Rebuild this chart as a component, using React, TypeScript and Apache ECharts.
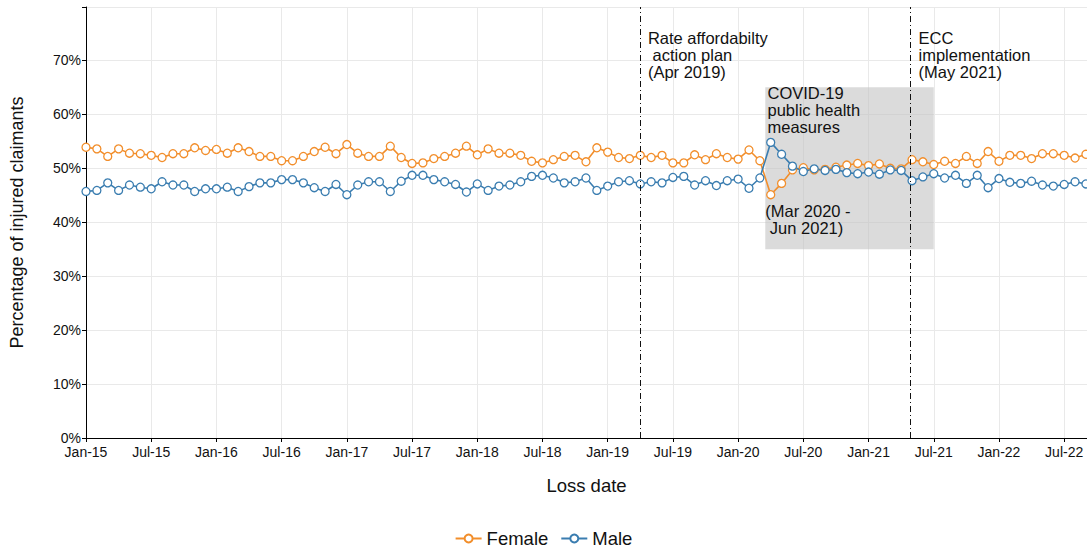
import React, { useEffect, useRef } from "react";
import * as echarts from "echarts";

// Month index 0 = Jan 2015
const tickLabels = [
  "Jan-15", "Jul-15", "Jan-16", "Jul-16", "Jan-17", "Jul-17", "Jan-18", "Jul-18",
  "Jan-19", "Jul-19", "Jan-20", "Jul-20", "Jan-21", "Jul-21", "Jan-22", "Jul-22",
];
const yTickLabels = ["0%", "10%", "20%", "30%", "40%", "50%", "60%", "70%"];

const femaleValues = [
  53.9, 53.6, 52.2, 53.6, 52.8, 52.7, 52.4, 52.0, 52.7, 52.7, 53.8, 53.3,
  53.5, 52.8, 53.8, 53.1, 52.2, 52.2, 51.4, 51.4, 52.2, 53.1, 53.9, 52.7,
  54.4, 52.8, 52.2, 52.2, 54.1, 52.0, 50.9, 51.0, 51.8, 52.2, 52.8, 54.1,
  52.5, 53.6, 52.8, 52.8, 52.4, 51.3, 51.0, 51.6, 52.2, 52.4, 51.2, 53.8,
  53.0, 52.0, 51.8, 52.4, 52.0, 52.4, 51.0, 51.0, 52.5, 51.6, 52.7, 52.0,
  51.7, 53.4, 51.4, 45.1, 47.2, 49.7, 50.1, 49.7, 49.8, 50.2, 50.6, 50.9,
  50.5, 50.8, 50.0, 49.9, 51.6, 51.2, 50.7, 51.3, 50.9, 52.2, 50.9, 53.1,
  51.3, 52.4, 52.4, 51.8, 52.7, 52.7, 52.4, 51.9, 52.6,
];
const maleValues = [
  45.7, 45.9, 47.3, 45.9, 46.9, 46.5, 46.2, 47.5, 46.9, 46.9, 45.7, 46.2,
  46.2, 46.5, 45.7, 46.6, 47.3, 47.3, 47.9, 47.9, 47.3, 46.4, 45.7, 47.0,
  45.1, 46.9, 47.5, 47.5, 45.7, 47.6, 48.7, 48.7, 47.9, 47.5, 47.0, 45.6,
  47.1, 45.9, 46.7, 46.9, 47.5, 48.5, 48.7, 48.2, 47.3, 47.5, 48.2, 45.9,
  46.7, 47.5, 47.7, 47.1, 47.5, 47.3, 48.3, 48.5, 46.9, 47.7, 46.8, 47.7,
  48.0, 46.3, 48.2, 54.8, 52.6, 50.4, 49.4, 49.9, 49.6, 49.8, 49.2, 49.0,
  49.3, 48.9, 49.7, 49.6, 47.7, 48.4, 49.0, 48.2, 48.7, 47.2, 48.7, 46.4,
  48.1, 47.4, 47.2, 47.6, 46.9, 46.7, 47.0, 47.5, 47.1,
];

// Events (month index from Jan 2015)
const rateActionPlan = 51; // Apr 2019
const eccImplementation = 75.8; // May 2021
const covidStart = 62.5; // Mar 2020
const covidEnd = 78; // Jun 2021
const covidLow = 35;
const covidHigh = 65;

const rateText = "Rate affordabilty\n action plan\n(Apr 2019)";
const eccText = "ECC\nimplementation\n(May 2021)";
const covidText = "COVID-19\npublic health\nmeasures";
const covidDates = "(Mar 2020 -\n Jun 2021)";

const FEMALE = "#F28E2B";
const MALE = "#3A7DB0";
const FONT = "Liberation Sans, Arial, Helvetica, sans-serif";

export default function App() {
  const ref = useRef<HTMLDivElement>(null);
  useEffect(() => {
    document.body.style.margin = "0";
    const chart = echarts.init(ref.current!, null, { renderer: "svg" });
    const toPairs = (arr: number[]) => arr.map((v, i) => [i, v]);
    chart.setOption({
      animation: false,
      textStyle: { fontFamily: FONT },
      grid: { left: 86, right: 0, top: 7, bottom: 115 },
      xAxis: {
        type: "value",
        min: 0,
        max: 92.1,
        interval: 6,
        name: "Loss date",
        nameLocation: "middle",
        nameGap: 38,
        nameTextStyle: { fontSize: 18.5, color: "#111", fontFamily: FONT },
        axisLine: { show: true, onZero: false, lineStyle: { color: "#000", width: 1 } },
        axisTick: { show: true, length: 4, lineStyle: { color: "#000" } },
        axisLabel: {
          fontSize: 14,
          color: "#111",
          margin: 7,
          fontFamily: FONT,
          showMaxLabel: false,
          formatter: (v: number) => tickLabels[Math.round(v / 6)] ?? "",
        },
        splitLine: { show: true, lineStyle: { color: "#e9e9e9", width: 1 } },
      },
      yAxis: {
        type: "value",
        min: 0,
        max: 79.9,
        interval: 10,
        name: "Percentage of injured claimants",
        nameLocation: "middle",
        nameGap: 60,
        nameTextStyle: { fontSize: 18, color: "#111", fontFamily: FONT },
        axisLine: { show: true, lineStyle: { color: "#000", width: 1 } },
        axisTick: { show: true, length: 4, lineStyle: { color: "#000" } },
        axisLabel: {
          fontSize: 14,
          color: "#111",
          margin: 5,
          fontFamily: FONT,
          formatter: (v: number) => yTickLabels[Math.round(v / 10)] ?? "",
        },
        splitLine: { show: true, lineStyle: { color: "#e9e9e9", width: 1 } },
      },
      legend: {
        bottom: 0,
        left: "center",
        itemWidth: 26,
        itemHeight: 10,
        itemGap: 12,
        textStyle: { fontSize: 18.5, color: "#111", fontFamily: FONT },
        data: ["Female", "Male"],
      },
      series: [
        {
          name: "Female",
          type: "line",
          data: toPairs(femaleValues),
          symbol: "circle",
          symbolSize: 8,
          clip: false,
          lineStyle: { color: FEMALE, width: 1.6 },
          itemStyle: { color: "#fff", borderColor: FEMALE, borderWidth: 1.3 },
          z: 3,
          markArea: {
            silent: true,
            itemStyle: { color: "rgba(195,195,195,0.6)" },
            data: [[{ coord: [covidStart, covidHigh] }, { coord: [covidEnd, covidLow] }]],
          },
        },
        {
          name: "Male",
          type: "line",
          data: toPairs(maleValues),
          symbol: "circle",
          symbolSize: 8,
          clip: false,
          lineStyle: { color: MALE, width: 1.6 },
          itemStyle: { color: "#fff", borderColor: MALE, borderWidth: 1.3 },
          z: 3,
          markLine: {
            silent: true,
            symbol: "none",
            label: { show: false },
            lineStyle: { color: "#111", width: 1, type: [6, 3, 1, 3] },
            data: [{ xAxis: rateActionPlan }, { xAxis: eccImplementation }],
          },
        },
      ],
    });

    const txt = (pos: number[], text: string) => {
      const p = chart.convertToPixel({ gridIndex: 0 }, pos) as number[];
      return {
        type: "text",
        x: p[0],
        y: p[1],
        z: 10,
        style: {
          text,
          fontSize: 16.5,
          lineHeight: 17,
          fontFamily: FONT,
          fill: "#111",
          align: "left",
          verticalAlign: "top",
        },
      };
    };
    chart.setOption({
      graphic: [
        txt([rateActionPlan + 0.7, 75.8], rateText),
        txt([eccImplementation + 0.8, 75.8], eccText),
        txt([covidStart + 0.2, 65.6], covidText),
        txt([covidStart, 43.6], covidDates),
      ],
    });
    return () => chart.dispose();
  }, []);
  return <div ref={ref} style={{ width: 1087, height: 553 }} />;
}
